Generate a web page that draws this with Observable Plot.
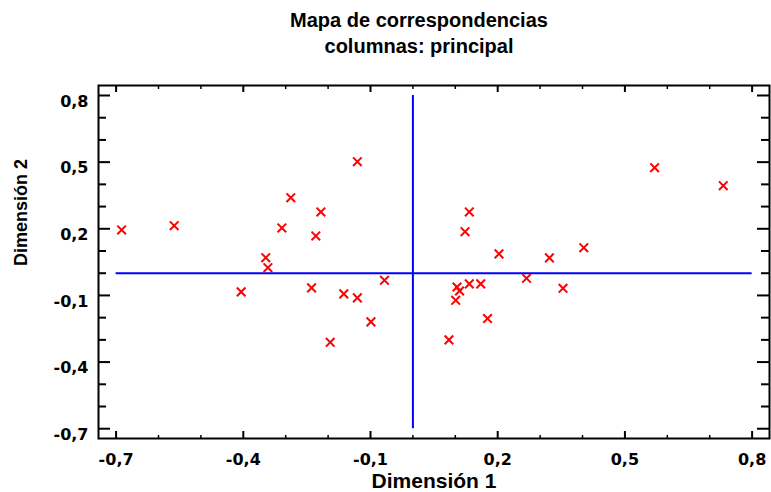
<!DOCTYPE html>
<html>
<head>
<meta charset="utf-8">
<script src="https://cdn.jsdelivr.net/npm/d3@7"></script>
<script src="https://cdn.jsdelivr.net/npm/@observablehq/plot@0.6"></script>
<style>
  html, body { margin: 0; padding: 0; background: #fff; }
  #wrap { position: relative; width: 771px; height: 492px; overflow: hidden; }
  #title { position: relative; height: 50px; width: 771px; font-family: "Liberation Sans", Arial, sans-serif; font-weight: bold; color: #000; }
  #title div { position: absolute; left: 0; width: 838px; text-align: center; font-size: 20px; line-height: 24px; }
  #chart svg { display: block; }
</style>
</head>
<body>
<div id="wrap">
  <div id="title">
    <div style="top:8px">Mapa de correspondencias</div>
    <div style="top:34px">columnas: principal</div>
  </div>
  <div id="chart"></div>
</div>
<script>
// Column coordinates (Dimensión 1, Dimensión 2)
const dim1 = [-0.687, -0.563, -0.405, -0.347, -0.342, -0.309, -0.288, -0.239, -0.229, -0.217,
              -0.195, -0.163, -0.131, -0.131, -0.099, -0.067, 0.085, 0.101, 0.104, 0.110,
              0.123, 0.133, 0.133, 0.160, 0.176, 0.203, 0.268, 0.322, 0.354, 0.403,
              0.570, 0.732];
const dim2 = [0.195, 0.214, -0.084, 0.070, 0.025, 0.204, 0.340, -0.066, 0.168, 0.276,
              -0.311, -0.093, 0.502, -0.111, -0.219, -0.032, -0.300, -0.122, -0.062, -0.080,
              0.187, 0.276, -0.048, -0.048, -0.204, 0.087, -0.023, 0.069, -0.068, 0.115,
              0.475, 0.394];

const majorTicks = [-0.7, -0.4, -0.1, 0.2, 0.5, 0.8];
const minorTicks = [-0.6, -0.5, -0.3, -0.2, 0, 0.1, 0.3, 0.4, 0.6, 0.7];
const refLineExtent = [-0.7, 0.8];

const points = dim1.map((x, i) => ({x, y: dim2[i]}));
const fmt = d => d.toFixed(1).replace(".", ",");

const W = 771, H = 442, mT = 35, mB = 54, mL = 98, mR = 2;
const innerW = W - mL - mR, innerH = H - mT - mB;

const tickFont = {fontFamily: "DejaVu Sans, sans-serif", fontSize: 16, fontWeight: "bold", fill: "#000"};

const chart = Plot.plot({
  width: W, height: H,
  marginTop: mT, marginBottom: mB, marginLeft: mL, marginRight: mR,
  style: {background: "#fff", color: "#000", overflow: "visible"},
  x: {domain: [-0.7415, 0.841]},
  y: {domain: [-0.744, 0.845]},
  marks: [
    Plot.ruleY([0], {x1: refLineExtent[0], x2: refLineExtent[1], stroke: "#0000ff", strokeWidth: 2}),
    Plot.ruleX([0], {y1: refLineExtent[0], y2: refLineExtent[1], stroke: "#0000ff", strokeWidth: 2}),
    Plot.dot(points, {x: "x", y: "y", symbol: "times", r: 4, stroke: "#ff0000", strokeWidth: 2}),
    Plot.frame({stroke: "#000", strokeWidth: 2}),
    // bottom ticks (inward)
    Plot.tickX(majorTicks, {x: d => d, insetTop: innerH - 7, stroke: "#000", strokeWidth: 2}),
    Plot.tickX(minorTicks, {x: d => d, insetTop: innerH - 3, stroke: "#000", strokeWidth: 1.5}),
    // top ticks (inward)
    Plot.tickX(majorTicks, {x: d => d, insetBottom: innerH - 7, stroke: "#000", strokeWidth: 2}),
    Plot.tickX(minorTicks, {x: d => d, insetBottom: innerH - 4, stroke: "#000", strokeWidth: 1.5}),
    // left ticks
    Plot.tickY(majorTicks, {y: d => d, insetRight: innerW - 12, stroke: "#000", strokeWidth: 2}),
    Plot.tickY(minorTicks, {y: d => d, insetRight: innerW - 8, stroke: "#000", strokeWidth: 2}),
    // right ticks
    Plot.tickY(majorTicks, {y: d => d, insetLeft: innerW - 12, stroke: "#000", strokeWidth: 2}),
    Plot.tickY(minorTicks, {y: d => d, insetLeft: innerW - 8, stroke: "#000", strokeWidth: 2}),
    // tick labels
    Plot.axisX(majorTicks, {anchor: "bottom", tickSize: 0, tickPadding: 15, tickFormat: fmt, label: null, ...tickFont}),
    Plot.axisY(majorTicks, {anchor: "left", tickSize: 0, tickPadding: 10, dy: 6, tickFormat: fmt, label: null, ...tickFont}),
    // axis titles
    Plot.text(["Dimensión 1"], {frameAnchor: "bottom", dy: 49, text: d => d, fontFamily: "Liberation Sans, Arial, sans-serif", fontSize: 21, fontWeight: "bold", fill: "#000"}),
    Plot.text(["Dimensión 2"], {frameAnchor: "left", dx: -77, dy: 4, rotate: -90, text: d => d, fontFamily: "Liberation Sans, Arial, sans-serif", fontSize: 18, fontWeight: "bold", fill: "#000"})
  ]
});
document.getElementById("chart").appendChild(chart);
</script>
</body>
</html>
